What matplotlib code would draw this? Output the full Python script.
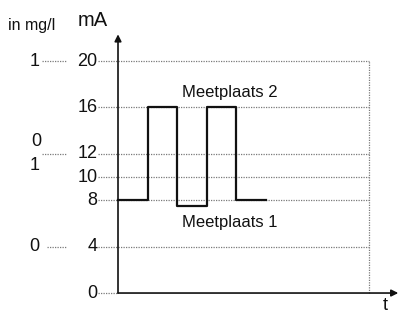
import matplotlib
matplotlib.use("Agg")
import matplotlib.pyplot as plt

plt.rcParams["font.family"] = ["Liberation Sans", "DejaVu Sans"]

# mA levels with dotted guide lines and their labels
ma_levels = [20, 16, 12, 10, 8, 4]
ma_labels = ["20", "16", "12", "10", "8", "4"]

# signal (steps), t in arbitrary units
sig_t = [0, 1, 2, 3, 4, 5]
sig_ma = [8, 16, 7.5, 16, 8, 8]

# secondary (mg/l) scale marks: (mA level, label above, label below)
mgl_marks = [(20, "1", None), (12, "0", "1"), (4, "0", None)]

T_END = 8.5
INK = "#111111"
GRID = "#7a7a7a"
FS = 13

fig = plt.figure(figsize=(3.99, 3.16), dpi=100, facecolor="white")
ax = fig.add_axes([0, 0, 1, 1])
ax.set_xlim(-4.0, 9.525)
ax.set_ylim(-1.98, 25.26)
ax.axis("off")

# dotted guide lines
for lv in ma_levels:
    ax.plot([-0.68, T_END], [lv, lv], color=GRID, lw=0.9,
            linestyle=(0, (1, 1)), zorder=1)
ax.plot([T_END, T_END], [0, 20], color=GRID, lw=0.9,
        linestyle=(0, (1, 1)), zorder=1)
ax.plot([-0.68, 0], [0, 0], color=GRID, lw=0.9,
        linestyle=(0, (1, 1)), zorder=1)

# mA tick labels
for lv, lab in zip(ma_levels + [0], ma_labels + ["0"]):
    ax.text(-0.7, lv, lab, ha="right", va="center", fontsize=FS, color=INK)

# mg/l scale
for lv, top, bottom in mgl_marks:
    x0 = -2.4 if (lv == 4) else -2.56
    ax.plot([x0, -1.73], [lv, lv], color=GRID, lw=0.9, linestyle=(0, (1, 1)))
    if bottom is None:
        ax.text(-2.83, lv, top, ha="center", va="center", fontsize=FS, color=INK)
    else:
        ax.text(-2.78, lv + 1.1, top, ha="center", va="center", fontsize=FS, color=INK)
        ax.text(-2.83, lv - 1.0, bottom, ha="center", va="center", fontsize=FS, color=INK)

# axes with arrows
ax.annotate("", xy=(0, 22.3), xytext=(0, 0),
            arrowprops=dict(arrowstyle="-|>", color=INK, lw=1.2,
                            mutation_scale=10, shrinkA=0, shrinkB=0))
ax.annotate("", xy=(9.5, 0), xytext=(0, 0),
            arrowprops=dict(arrowstyle="-|>", color=INK, lw=1.2,
                            mutation_scale=10, shrinkA=0, shrinkB=0))

# signal
ax.plot(sig_t, sig_ma, drawstyle="steps-post", color=INK, lw=1.6, zorder=3)

# labels
ax.text(-0.85, 23.5, "mA", ha="center", va="center", fontsize=14.5, color=INK)
ax.text(-2.92, 23.1, "in mg/l", ha="center", va="center", fontsize=11.5, color=INK)
ax.text(9.05, -1.05, "t", ha="center", va="center", fontsize=FS, color=INK)
ax.text(3.8, 17.3, "Meetplaats 2", ha="center", va="center", fontsize=12, color=INK)
ax.text(3.8, 6.1, "Meetplaats 1", ha="center", va="center", fontsize=12, color=INK)

fig.savefig("out.png", dpi=100, facecolor="white")
